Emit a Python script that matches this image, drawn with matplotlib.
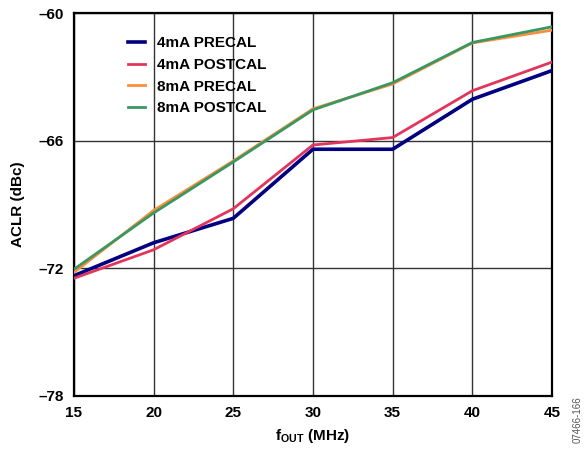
import matplotlib
matplotlib.use("Agg")
import matplotlib.pyplot as plt

plt.rcParams['font.family'] = ['Liberation Sans', 'DejaVu Sans']
plt.rcParams['font.weight'] = 'bold'
plt.rcParams['mathtext.fontset'] = 'custom'
plt.rcParams['mathtext.rm'] = 'Liberation Sans:bold'
plt.rcParams['mathtext.bf'] = 'Liberation Sans:bold'

# data
f_out = [15, 20, 25, 30, 35, 40, 45]
ma4_precal = [-72.35, -70.8, -69.65, -66.4, -66.4, -64.05, -62.7]
ma4_postcal = [-72.47, -71.13, -69.2, -66.2, -65.85, -63.65, -62.3]
ma8_precal = [-72.2, -69.28, -66.95, -64.5, -63.33, -61.4, -60.8]
ma8_postcal = [-72.05, -69.4, -67.0, -64.55, -63.27, -61.38, -60.64]

x_ticks = [15, 20, 25, 30, 35, 40, 45]
y_ticks = [-78, -72, -66, -60]
y_labels = ['–78', '–72', '–66', '–60']

fig = plt.figure(figsize=(5.86, 4.54), dpi=100)
ax = fig.add_axes([0.126, 0.128, 0.816, 0.843])

ax.plot(f_out, ma4_precal, color='#000080', lw=2.6, label='4mA PRECAL', zorder=3)
ax.plot(f_out, ma4_postcal, color='#E2355B', lw=2.0, label='4mA POSTCAL', zorder=3)
ax.plot(f_out, ma8_precal, color='#F98E3C', lw=2.0, label='8mA PRECAL', zorder=3)
ax.plot(f_out, ma8_postcal, color='#3A9762', lw=2.0, label='8mA POSTCAL', zorder=4)

ax.set_xlim(15, 45)
ax.set_ylim(-78, -60)
ax.set_xticks(x_ticks)
ax.set_yticks(y_ticks)
ax.set_yticklabels(y_labels)
ax.tick_params(length=0, labelsize=11, pad=7)
for lbl in ax.get_xticklabels() + ax.get_yticklabels():
    lbl.set_fontweight('bold')

ax.grid(True, color='#333333', lw=1.0)
for s in ax.spines.values():
    s.set_linewidth(1.6)
    s.set_color('black')

ax.set_xlabel(r'$\mathbf{f_{OUT}}$ (MHz)', fontsize=11, fontweight='bold', labelpad=5)
ax.set_ylabel('ACLR (dBc)', fontsize=11, fontweight='bold', labelpad=10)

leg = ax.legend(loc='upper left', bbox_to_anchor=(0.085, 0.975), frameon=False,
                prop={'weight': 'bold', 'size': 11}, handlelength=1.1,
                labelspacing=0.5, handletextpad=0.8)

fig.text(0.986, 0.075, '07466-166', rotation=90, fontsize=7, color='#555555',
         fontweight='normal', ha='center', va='center')

fig.savefig('out.png', dpi=100)
